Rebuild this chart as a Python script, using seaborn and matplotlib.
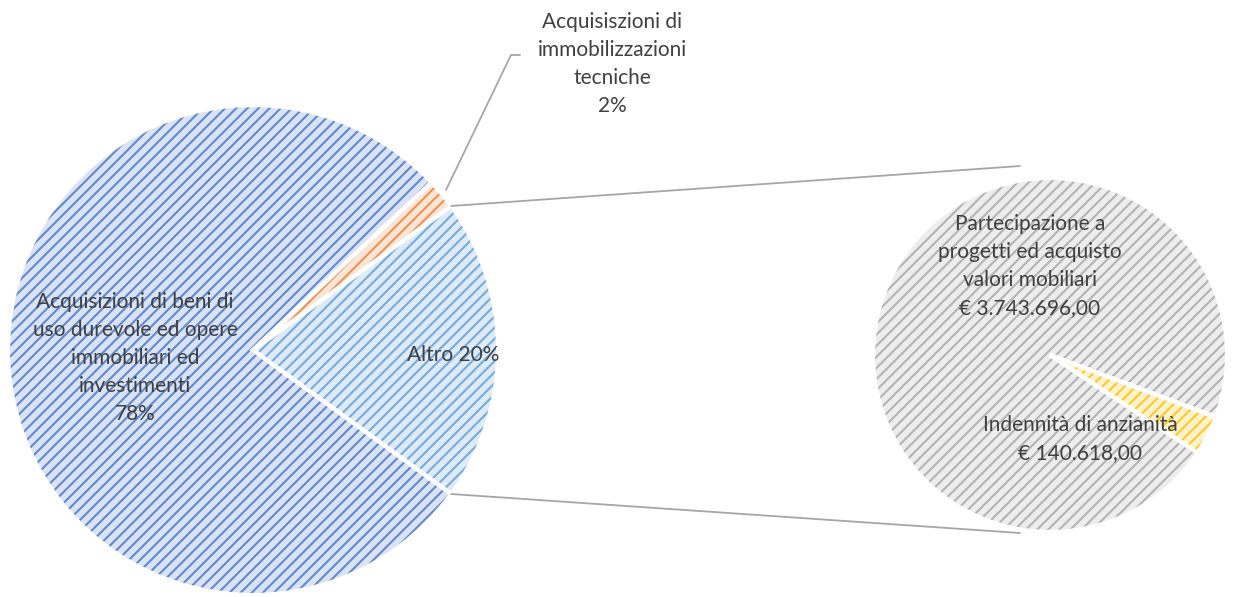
import numpy as np
import seaborn as sns
import matplotlib.pyplot as plt

# ==========================================
# DATA
# ==========================================

main_labels = [
    "Altro",
    "Acquisiszioni di\nimmobilizzazioni\ntecniche",
    "Acquisizioni di beni di\nuso durevole ed opere\nimmobiliari ed\ninvestimenti",
]
main_pct = [20, 2, 78]

sub_labels = [
    "Indennità di anzianità",
    "Partecipazione a\nprogetti ed acquisto\nvalori mobiliari",
]
sub_values = [140618.00, 3743696.00]

main_fill = ["#DEEBF7", "#FBE5D6", "#DAE3F3"]
main_hatch = ["#5B9BD5", "#ED7D31", "#4472C4"]
sub_fill = ["#FFF2CC", "#EDEDED"]
sub_hatch = ["#FFC000", "#A5A5A5"]

# ==========================================
# STYLE
# ==========================================

sns.set_theme(style="white")
plt.rcParams["font.family"] = ["Lato", "DejaVu Sans"]
plt.rcParams["hatch.linewidth"] = 1.5
text_color = "#404040"


def euro(v):
    s = f"{v:,.2f}"
    s = s.replace(",", "X").replace(".", ",").replace("X", ".")
    return "€ " + s


def hatched_pie(ax, values, fills, hatches, center, radius, start):
    # background fill
    ax.pie(values, colors=fills, center=center, radius=radius,
           startangle=start, frame=True,
           wedgeprops=dict(linewidth=0))
    # hatch layer
    wedges, _ = ax.pie(values, colors=["none"] * len(values), center=center,
                       radius=radius, startangle=start, frame=True,
                       wedgeprops=dict(linewidth=0))
    for w, hc in zip(wedges, hatches):
        w.set_hatch("///")
        w.set_edgecolor(hc)
        w.set_alpha(0.8)
    # white borders on top
    ax.pie(values, colors=["none"] * len(values), center=center,
           radius=radius, startangle=start, frame=True,
           wedgeprops=dict(linewidth=3, edgecolor="white"))


W, H = 1237, 597
fig = plt.figure(figsize=(W / 100, H / 100), dpi=100)
ax = fig.add_axes([0, 0, 1, 1])

main_c = (253, H - 350)
main_r = 245
sub_c = (1050, H - 355)
sub_r = 177

hatched_pie(ax, main_pct, main_fill, main_hatch, main_c, main_r, -36)

sub_frac = sub_values[0] / sum(sub_values)
sub_start = -20.5 - 360 * sub_frac
hatched_pie(ax, sub_values, sub_fill, sub_hatch, sub_c, sub_r, sub_start)

ax.set_xlim(0, W)
ax.set_ylim(0, H)
ax.set_aspect("equal")
ax.axis("off")

# ==========================================
# CONNECTOR LINES
# ==========================================

a = np.deg2rad(36)
p_top = (main_c[0] + main_r * np.cos(a), main_c[1] + main_r * np.sin(a))
p_bot = (main_c[0] + main_r * np.cos(a), main_c[1] - main_r * np.sin(a))
ax.plot([p_top[0], 1020], [p_top[1], H - 166],
        color="#A6A6A6", linewidth=1.3)
ax.plot([p_bot[0], 1020], [p_bot[1], H - 533],
        color="#A6A6A6", linewidth=1.3)

# ==========================================
# LABELS
# ==========================================

fs = 15
ls = 1.5

ax.text(135, H - 358, f"{main_labels[2]}\n{main_pct[2]}%", ha="center",
        va="center", fontsize=fs, color=text_color, linespacing=ls)
ax.text(453, H - 355, f"{main_labels[0]} {main_pct[0]}%", ha="center",
        va="center", fontsize=fs, color=text_color)
ax.text(612, H - 64, f"{main_labels[1]}\n{main_pct[1]}%", ha="center",
        va="center", fontsize=fs, color=text_color, linespacing=ls)
ax.plot([446, 511, 520], [H - 190, H - 55, H - 55],
        color="#A6A6A6", linewidth=1.3)

ax.text(1030, H - 266, f"{sub_labels[1]}\n{euro(sub_values[1])}", ha="center",
        va="center", fontsize=fs, color=text_color, linespacing=ls)
ax.text(1080, H - 439, f"{sub_labels[0]}\n{euro(sub_values[0])}", ha="center",
        va="center", fontsize=fs, color=text_color, linespacing=ls)

plt.savefig("out.png", dpi=100)
